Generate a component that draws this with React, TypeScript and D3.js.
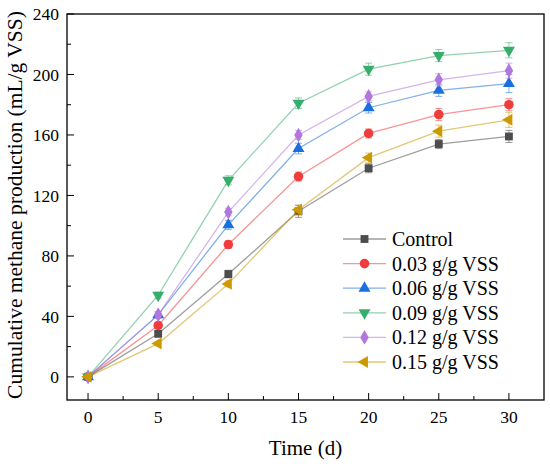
import React from "react";
import * as d3 from "d3";

const days = [0, 5, 10, 15, 20, 25, 30];
const seriesNames = ["Control", "0.03 g/g VSS", "0.06 g/g VSS", "0.09 g/g VSS", "0.12 g/g VSS", "0.15 g/g VSS"];
const control = [0, 28.5, 68, 109.5, 138, 154, 159];
const dose003 = [0, 34, 87.5, 132.5, 161, 173.5, 180];
const dose006 = [0, 41, 100.5, 151, 178, 189.5, 194];
const dose009 = [0, 54, 130, 181, 203.5, 212.5, 216];
const dose012 = [0, 41, 109, 160, 185.5, 196.5, 202.5];
const dose015 = [0, 22, 61.5, 110.5, 145, 162.5, 170];
const errControl = [1, 2, 2.5, 4, 3, 3, 4];
const err003 = [1, 2, 2.5, 3, 3, 4, 4];
const err006 = [1, 2, 3, 3.5, 3.5, 4, 6];
const err009 = [1, 2, 3, 3.5, 4, 4, 5];
const err012 = [1, 2, 2.5, 3, 3, 4, 5];
const err015 = [1, 1.5, 2, 3, 3, 4, 5];
const yTicks = [0, 40, 80, 120, 160, 200, 240];
const xTicks = [0, 5, 10, 15, 20, 25, 30];

const values = [control, dose003, dose006, dose009, dose012, dose015];
const errors = [errControl, err003, err006, err009, err012, err015];
const colors = ["#4d4d4d", "#f03c3c", "#1a6fdf", "#37ad6b", "#b177de", "#cc9900"];
const shapes = [
  { type: d3.symbolSquare, size: 62, rot: 0 },
  { type: d3.symbolCircle, size: 72, rot: 0 },
  { type: d3.symbolTriangle, size: 62, rot: 0 },
  { type: d3.symbolTriangle, size: 62, rot: 180 },
  { type: d3.symbolDiamond, size: 62, rot: 0 },
  { type: d3.symbolTriangle, size: 62, rot: -90 },
];

const font = '"Liberation Serif", "Times New Roman", "DejaVu Serif", serif';

const App: React.FC = () => {
  const W = 550;
  const H = 464;
  const left = 67;
  const right = 544;
  const top = 14;
  const bottom = 400;

  const x = d3.scaleLinear().domain([-1.5, 32.5]).range([left, right]);
  const y = d3.scaleLinear().domain([-15.3, 240]).range([bottom, top]);
  const line = d3
    .line<number>()
    .x((_, i) => x(days[i]))
    .y((d) => y(d));

  const xMinor = d3.range(0, 32.5, 2.5).filter((v) => v % 5 !== 0);
  const yMinor = d3.range(20, 240, 40);

  const symbolPath = (k: number) => d3.symbol().type(shapes[k].type).size(shapes[k].size)() as string;

  return (
    <svg width={W} height={H} style={{ position: "absolute", left: 0, top: 0, fontFamily: font }}>
      <rect width={W} height={H} fill="#fff" />
      {/* series */}
      {values.map((vals, k) => (
        <g key={seriesNames[k]}>
          <path d={line(vals) as string} fill="none" stroke={colors[k]} strokeOpacity={0.55} strokeWidth={1.3} />
          {vals.map((v, i) => {
            const e = errors[k][i];
            const cx = x(days[i]);
            return (
              <g key={i} stroke={colors[k]} strokeOpacity={0.55} strokeWidth={1}>
                <line x1={cx} x2={cx} y1={y(v + e)} y2={y(v - e)} />
                <line x1={cx - 3.5} x2={cx + 3.5} y1={y(v + e)} y2={y(v + e)} />
                <line x1={cx - 3.5} x2={cx + 3.5} y1={y(v - e)} y2={y(v - e)} />
              </g>
            );
          })}
          {vals.map((v, i) => (
            <path
              key={"m" + i}
              d={symbolPath(k)}
              fill={colors[k]}
              transform={`translate(${x(days[i])},${y(v)}) rotate(${shapes[k].rot})`}
            />
          ))}
        </g>
      ))}

      {/* frame */}
      <rect x={left} y={top} width={right - left} height={bottom - top} fill="none" stroke="#000" strokeWidth={1.3} />

      {/* x axis */}
      {xTicks.map((t) => (
        <g key={"x" + t}>
          <line x1={x(t)} x2={x(t)} y1={bottom} y2={bottom - 7} stroke="#000" strokeWidth={1} />
          <text x={x(t)} y={bottom + 23} textAnchor="middle" fontSize={17.5}>
            {t}
          </text>
        </g>
      ))}
      {xMinor.map((t) => (
        <line key={"xm" + t} x1={x(t)} x2={x(t)} y1={bottom} y2={bottom - 4} stroke="#000" strokeWidth={1} />
      ))}

      {/* y axis */}
      {yTicks.map((t) => (
        <g key={"y" + t}>
          <line x1={left} x2={left + 7} y1={y(t)} y2={y(t)} stroke="#000" strokeWidth={1} />
          <text x={left - 8} y={y(t)} dy="0.35em" textAnchor="end" fontSize={17.5}>
            {t}
          </text>
        </g>
      ))}
      {yMinor.map((t) => (
        <line key={"ym" + t} x1={left} x2={left + 4} y1={y(t)} y2={y(t)} stroke="#000" strokeWidth={1} />
      ))}

      {/* axis titles */}
      <text x={(left + right) / 2} y={455} textAnchor="middle" fontSize={21}>
        Time (d)
      </text>
      <text transform="translate(22,205) rotate(-90)" textAnchor="middle" fontSize={21.5}>
        Cumulative methane production (mL/g VSS)
      </text>

      {/* legend */}
      {seriesNames.map((name, k) => {
        const ly = 239 + k * 24.6;
        return (
          <g key={"l" + name}>
            <line x1={343} x2={386} y1={ly} y2={ly} stroke={colors[k]} strokeOpacity={0.55} strokeWidth={1.3} />
            <path d={symbolPath(k)} fill={colors[k]} transform={`translate(364.5,${ly}) rotate(${shapes[k].rot})`} />
            <text x={392} y={ly} dy="0.35em" fontSize={20}>
              {name}
            </text>
          </g>
        );
      })}
    </svg>
  );
};

export default App;
